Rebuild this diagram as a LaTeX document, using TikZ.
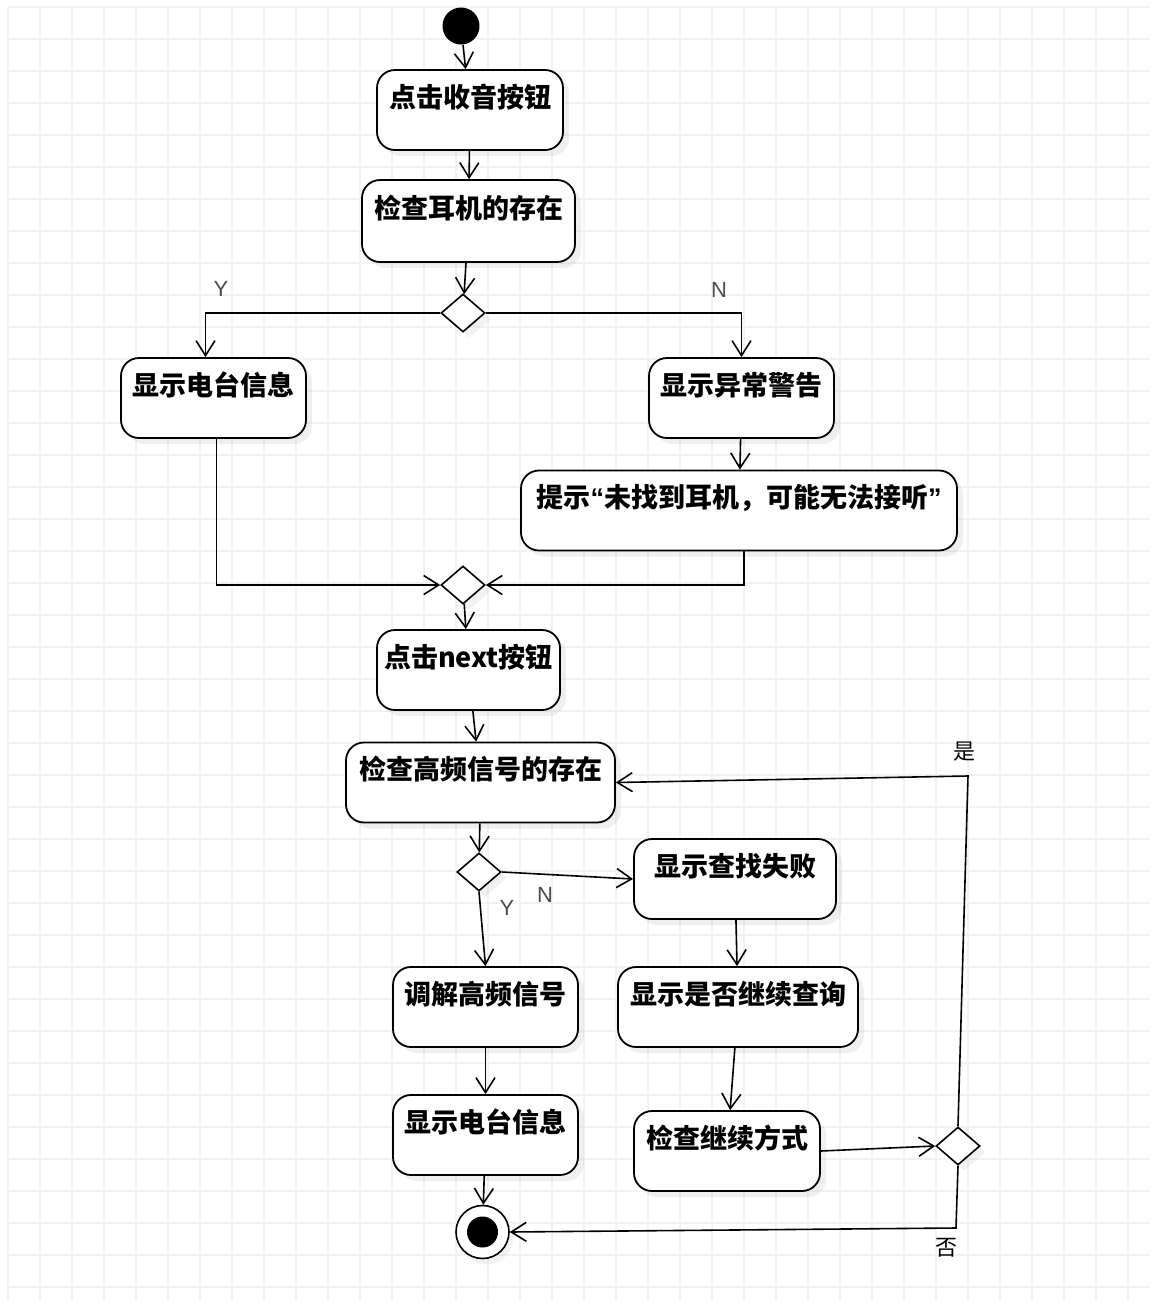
\documentclass[tikz,border=0pt]{standalone}
\usepackage{fontspec}
\newfontfamily\cjk{Noto Sans CJK SC}
\newfontfamily\labelfont{Liberation Sans}
\usetikzlibrary{arrows.meta}
\usetikzlibrary{shapes.geometric}
\usetikzlibrary{shadows}
\tikzset{
act/.style={
  draw,
  line width=0.9pt,
  rounded corners=9pt,
  fill=white,
  inner sep=0pt,
  minimum height=40pt,
  text height=18.5pt,
  text depth=21.5pt,
  font=\cjk\bfseries\fontsize{13.5}{15}\selectfont,
  drop shadow={opacity=0.12,shadow xshift=3pt,shadow yshift=-3pt}
},
decision/.style={
  draw,
  diamond,
  line width=0.8pt,
  fill=white,
  inner sep=0pt,
  minimum width=22pt,
  minimum height=19pt,
  drop shadow={opacity=0.1,shadow xshift=3pt,shadow yshift=-3pt}
},
arr/.style={draw,line width=0.8pt,-{Straight Barb[length=7.5pt,width=9.5pt]}},
gridline/.style={draw=black!5,line width=0.6pt},
yn/.style={text=black!70,font=\labelfont\fontsize{11}{12}\selectfont},
yesno/.style={font=\cjk\fontsize{11}{12}\selectfont},
}
\newcommand{\openq}{{\labelfont\bfseries “}}
\newcommand{\closeq}{{\labelfont\bfseries ”}}

\begin{document}
\begin{tikzpicture}[x=0.5pt,y=-0.5pt]
\fill[white] (0,0) rectangle (1154,1308);
\useasboundingbox (0,0) rectangle (1154,1308);
% the grid
\foreach \gx in {8,40,...,1150}
{
  \draw[gridline] (\gx,7) -- (\gx,1300);
}
\foreach \gy in {7,39,...,1300}
{
  \draw[gridline] (8,\gy) -- (1150,\gy);
}
% the nodes
\node[circle,fill=black,minimum size=18.5pt,inner sep=0pt] (start) at (461,26) {};
\node[act,minimum width=93pt] (press) at (470,110) {点击收音按钮};
\node[act,minimum width=106.5pt,minimum height=41pt] (headset) at (468.5,221) {检查耳机的存在};
\node[decision] (d1) at (463,313) {};
\node[act,minimum width=92.5pt] (info) at (213.5,398) {显示电台信息};
\node[act,minimum width=92.5pt] (warn) at (741.5,398) {显示异常警告};
\node[act,minimum width=218pt] (hint) at (739,510.5) {提示\openq 未找到耳机，可能无法接听\closeq};
\node[decision] (d2) at (463,585) {};
\node[act,minimum width=91.5pt] (next) at (468.5,670) {点击next按钮};
\node[act,minimum width=134.5pt] (signal) at (480.5,782.5) {检查高频信号的存在};
\node[decision] (d3) at (479,872) {};
\node[act,minimum width=101pt,minimum height=39pt] (fail) at (735,879) {显示查找失败};
\node[act,minimum width=120pt] (ask) at (738,1007) {显示是否继续查询};
\node[act,minimum width=93pt,minimum height=39pt] (mode) at (727,1151) {检查继续方式};
\node[decision] (d4) at (958,1146) {};
\node[act,minimum width=92.5pt] (demod) at (485.5,1007) {调解高频信号};
\node[act,minimum width=92.5pt] (info2) at (485.5,1135) {显示电台信息};
\node[circle,draw,line width=0.8pt,fill=white,minimum size=26.5pt,inner sep=0pt,
  drop shadow={opacity=0.1,shadow xshift=2pt,shadow yshift=-3pt}] (fin) at (482.5,1232) {};
\node[circle,fill=black,minimum size=15.5pt,inner sep=0pt] (fincore) at (fin) {};
\coordinate (cyes) at (968,776);
\coordinate (cno) at (956,1228);
% the labels
\node[yn] (ly1) at (221,289) {Y};
\node[yn] (ln1) at (719,290) {N};
\node[yn] (ly3) at (507,908) {Y};
\node[yn] (ln3) at (545,895) {N};
\node[yesno] (lyes) at (964,752) {是};
\node[yesno] (lno) at (946,1248) {否};
% the arrows
\draw[arr] (start) -- (press);
\draw[arr] (press) -- (headset);
\draw[arr] (headset) -- (d1);
\draw[arr] (d1.west) -| ([xshift=-4pt]info.north);
\draw[arr] (d1.east) -| (warn.north);
\draw[arr] (warn) -- (hint);
\draw[arr] ([xshift=1.5pt]info.south) |- (d2.west);
\draw[arr] ([xshift=2.5pt]hint.south) |- (d2.east);
\draw[arr] (d2) -- (next);
\draw[arr] (next) -- (signal);
\draw[arr] (signal) -- (d3);
\draw[arr] (d3.east) -- (fail.west);
\draw[arr] (d3.south) -- (demod.north);
\draw[arr] (demod) -- (info2);
\draw[arr] (info2) -- (fin);
\draw[arr] (fail) -- (ask);
\draw[arr] (ask) -- (mode);
\draw[arr] (mode.east) -- (d4.west);
\draw[arr] (d4.north) -- (cyes) -- (signal.east);
\draw[arr] (d4.south) -- (cno) -- (fin.east);
\end{tikzpicture}
\end{document}
